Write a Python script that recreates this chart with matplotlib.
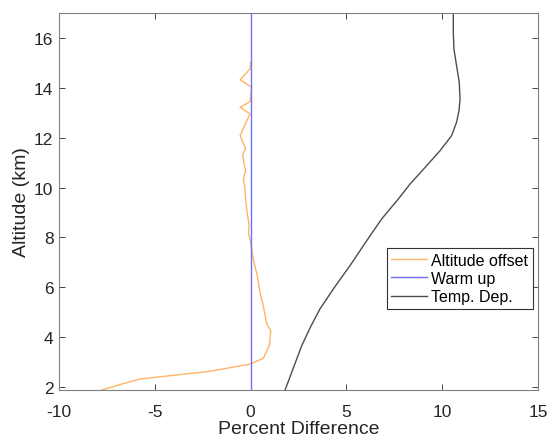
import matplotlib.pyplot as plt

# altitude offset (orange)
offset_alt = [1.88, 2.10, 2.32, 2.63, 2.92, 3.15, 3.66, 4.26, 4.53, 5.26, 5.80, 6.46, 7.13,
              7.94, 8.20, 8.47, 9.00, 9.54, 10.00, 10.34, 10.68, 11.00, 11.35, 11.55, 12.08,
              12.50, 12.95, 13.22, 13.44, 14.02, 14.32, 14.76, 15.03]
offset_pct = [-7.77, -6.80, -5.77, -2.12, -0.03, 0.66, 0.98, 1.05, 0.84, 0.66, 0.49, 0.35, 0.14,
              -0.03, -0.12, -0.07, -0.18, -0.26, -0.30, -0.38, -0.26, -0.35, -0.41, -0.26, -0.55,
              -0.30, -0.03, -0.55, -0.03, 0.06, -0.55, -0.03, 0.0]

# warm up (blue)
warm_alt = [1.88, 17.0]
warm_pct = [0.0, 0.0]

# temperature dependence (dark gray)
temp_alt = [1.88, 2.8, 3.66, 4.4, 5.13, 6.0, 6.87, 7.8, 8.74, 9.54, 10.14, 10.8, 11.48,
            12.08, 12.62, 13.1, 13.55, 14.22, 14.89, 15.56, 16.23, 17.0]
temp_pct = [1.80, 2.25, 2.67, 3.12, 3.62, 4.38, 5.19, 6.00, 6.84, 7.71, 8.32, 9.10, 9.89,
            10.49, 10.75, 10.88, 10.93, 10.89, 10.75, 10.61, 10.58, 10.58]

plt.rcParams['font.family'] = ['Liberation Sans', 'DejaVu Sans']
plt.rcParams['axes.unicode_minus'] = False

fig = plt.figure(figsize=(5.48, 4.39), dpi=100)
ax = fig.add_axes([59 / 548, 1 - 391 / 439, 479 / 548, 377 / 439])

ax.plot(offset_pct, offset_alt, color='#ffb366', lw=1.0, label='Altitude offset')
ax.plot(warm_pct, warm_alt, color='#7070ff', lw=1.0, label='Warm up')
ax.plot(temp_pct, temp_alt, color='#4d4d4d', lw=1.0, label='Temp. Dep.')

ax.set_xlim(-10, 15)
ax.set_ylim(1.88, 17)
ax.set_xticks([-10, -5, 0, 5, 10, 15])
ax.set_yticks([2, 4, 6, 8, 10, 12, 14, 16])
ax.tick_params(direction='in', top=True, right=True, labelsize=12.5, colors='#262626',
               length=4, width=0.6)
ax.tick_params(axis='x', pad=10)
ax.tick_params(axis='y', pad=4)
for s in ax.spines.values():
    s.set_color('#808080')
    s.set_linewidth(0.8)

ax.set_ylabel('Altitude (km)', fontsize=14, color='#262626', labelpad=3)
ax.set_xlabel('Percent Difference', fontsize=14, color='#262626', labelpad=1)

leg = ax.legend(loc='lower right', bbox_to_anchor=(0.99, 0.215), fontsize=11.5,
                fancybox=False, framealpha=1, edgecolor='#333333',
                handlelength=2.2, borderpad=0.3, labelspacing=0.2, handletextpad=0.3,
                borderaxespad=0)
leg.get_frame().set_linewidth(0.8)

fig.savefig('out.png', dpi=100)
